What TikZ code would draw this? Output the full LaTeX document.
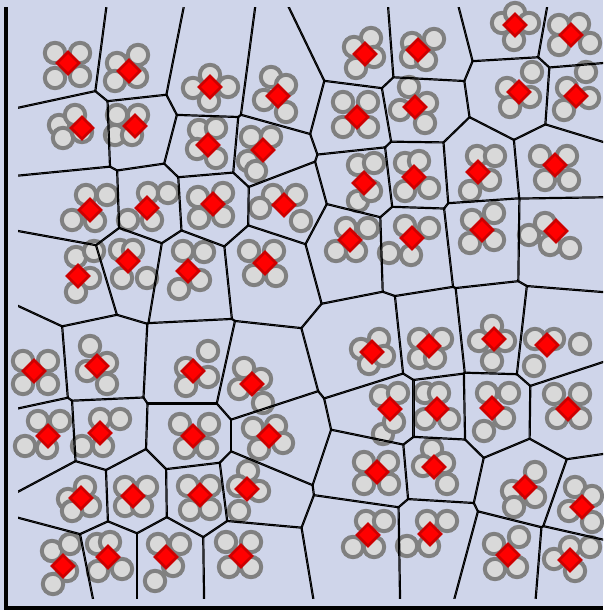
\documentclass[tikz,border=0pt]{standalone}
\usetikzlibrary{calc}
\definecolor{bgc}{HTML}{CFD5EA}
\definecolor{ringc}{HTML}{808080}
\definecolor{dotc}{HTML}{D9D9D9}
\definecolor{diamfill}{HTML}{FF0000}
\definecolor{diamline}{HTML}{CC0000}
\tikzset{
  dotmark/.style={fill=dotc, draw=ringc, line width=4pt},
  diammark/.style={fill=diamfill, draw=diamline, line width=2.8pt, line join=miter},
  edgeline/.style={draw=black, line width=2.2pt},
  axisline/.style={draw=black, line width=4pt},
}
\newcommand\mysites{68/63, 129/71, 210/87, 278/96, 365/54, 418/50, 515/25, 571/35,
82/128, 135/126, 208/145, 263/150, 357/117, 415/107, 519/92, 576/96,
90/210, 147/208, 213/204, 284/205, 364/183, 414/177, 478/172, 555/165,
78/276, 128/261, 188/271, 265/263, 350/240, 412/238, 482/230, 556/231,
34/371, 97/366, 193/371, 252/384, 372/352, 429/346, 494/339, 547/345,
48/436, 100/433, 193/436, 269/436, 390/409, 437/409, 492/408, 568/409,
81/498, 133/496, 200/495, 247/489, 377/472, 434/467, 525/487, 582/507,
63/566, 108/557, 166/557, 241/556, 368/535, 430/534, 508/555, 570/560}
\newcommand\mydots{55/53, 80/53, 55/78, 80/76,
138/55, 117/63, 115/81, 137/77,
193/88, 210/75, 228/87, 209/101,
271/77, 286/85, 264/100, 286/112,
371/38, 354/47, 356/68, 374/57,
412/43, 434/39, 411/57, 426/60,
502/23, 515/13, 529/23, 514/40,
559/25, 579/24, 559/45, 590/43,
59/125, 75/115, 63/138, 82/132,
117/115, 138/115, 115/135, 132/135,
199/130, 216/128, 197/149, 216/158,
251/137, 271/137, 248/161, 256/171,
343/102, 368/102, 343/127, 368/127,
409/87, 427/103, 400/110, 425/123,
532/72, 507/88, 510/107, 530/97,
586/72, 567/88, 564/110, 589/98,
86/195, 107/195, 72/220, 95/221,
148/193, 168/193, 128/220, 152/220,
198/197, 223/193, 199/218, 223/216,
273/195, 296/195, 260/208, 301/221,
358/165, 374/163, 358/201, 371/191,
405/163, 419/161, 429/188, 405/191,
477/156, 495/156, 490/180, 470/191,
540/156, 567/156, 545/180, 569/180,
76/257, 94/251, 90/278, 76/292,
120/250, 133/250, 122/278, 147/278,
183/251, 204/252, 200/280, 179/289,
249/251, 274/251, 254/275, 276/276,
346/228, 368/228, 336/251, 356/251,
405/226, 429/228, 389/253, 411/255,
472/220, 494/213, 470/243, 494/240,
529/235, 545/223, 550/245, 570/248,
23/361, 48/361, 23/384, 48/384,
90/346, 107/363, 87/371, 107/384,
208/351, 186/368, 186/386, 208/377,
244/368, 261/379, 239/389, 263/403,
379/339, 361/349, 369/364, 384/356,
419/339, 442/339, 419/358, 435/358,
492/326, 479/341, 505/341, 492/361,
535/339, 554/339, 534/366, 580/344,
38/421, 60/421, 25/446, 47/448,
100/419, 120/419, 82/446, 103/446,
180/424, 209/424, 185/448, 207/448,
253/428, 276/426, 259/449, 283/443,
381/396, 398/393, 383/434, 394/422,
425/393, 439/393, 425/419, 449/419,
487/393, 509/393, 484/431, 504/418,
554/394, 580/394, 557/418, 580/418,
85/487, 68/499, 90/506, 72/511,
125/487, 147/487, 125/506, 142/506,
188/486, 210/486, 190/510, 210/509,
248/471, 238/486, 259/491, 239/511,
364/462, 388/462, 364/484, 389/484,
432/449, 423/466, 444/463, 447/484,
535/472, 512/491, 535/497, 514/507,
575/487, 592/496, 569/511, 592/522,
52/551, 70/544, 67/571, 53/584,
97/544, 110/542, 98/571, 122/569,
158/544, 180/544, 173/566, 155/581,
226/542, 251/542, 229/567, 251/567,
366/521, 384/521, 353/547, 374/547,
427/521, 447/521, 407/546, 429/546,
494/544, 519/537, 495/569, 517/567,
554/559, 570/547, 590/547, 575/571}
\begin{document}
\begin{tikzpicture}[x=1pt,y=-1pt]
\fill[bgc] (0,0) rectangle (603,610);
\useasboundingbox (0,0) rectangle (603,610);
% sites as named coordinates
\foreach \ax/\ay [count=\i] in \mysites {
  \coordinate (s\i) at (\ax,\ay);
}
% grey rings
\foreach \cx/\cy [count=\j] in \mydots {
  \filldraw[dotmark] (\cx,\cy) coordinate (d\j) circle[radius=10.2pt];
}
% Voronoi edges of the sites
\begin{scope}
  \clip (18,8) rectangle (603,598);
  \foreach \ax/\ay [count=\i] in \mysites {
    \begin{scope}
      \foreach \bx/\by [count=\k] in \mysites {
        \ifnum\i=\k\relax\else
          \pgfmathsetmacro\dd{veclen(\bx-\ax,\by-\ay)}
          \ifdim\dd pt<220pt
            \pgfmathsetmacro\nx{(\bx-\ax)/\dd}
            \pgfmathsetmacro\ny{(\by-\ay)/\dd}
            \pgfmathsetmacro\mx{(\ax+\bx)/2}
            \pgfmathsetmacro\my{(\ay+\by)/2}
            \clip ({\mx-1500*\ny},{\my+1500*\nx}) -- ({\mx-1500*\ny-1500*\nx},{\my+1500*\nx-1500*\ny}) -- ({\mx+1500*\ny-1500*\nx},{\my-1500*\nx-1500*\ny}) -- ({\mx+1500*\ny},{\my-1500*\nx}) -- cycle;
          \fi
        \fi
      }
      \foreach \bx/\by [count=\k] in \mysites {
        \ifnum\i=\k\relax\else
          \pgfmathsetmacro\dd{veclen(\bx-\ax,\by-\ay)}
          \ifdim\dd pt<220pt
            \pgfmathsetmacro\nx{(\bx-\ax)/\dd}
            \pgfmathsetmacro\ny{(\by-\ay)/\dd}
            \pgfmathsetmacro\mx{(\ax+\bx)/2}
            \pgfmathsetmacro\my{(\ay+\by)/2}
            \draw[edgeline] ({\mx-1500*\ny},{\my+1500*\nx}) -- ({\mx+1500*\ny},{\my-1500*\nx});
          \fi
        \fi
      }
    \end{scope}
  }
\end{scope}
% red diamonds on the sites
\foreach \i in {1,...,64} {
  \filldraw[diammark] ($(s\i)+(11,0)$) -- ($(s\i)+(0,11)$) -- ($(s\i)+(-11,0)$) -- ($(s\i)+(0,-11)$) -- cycle;
}
% axes
\draw[axisline] (6,7.5) -- (6,607.5) -- (603,607.5);
\end{tikzpicture}
\end{document}
